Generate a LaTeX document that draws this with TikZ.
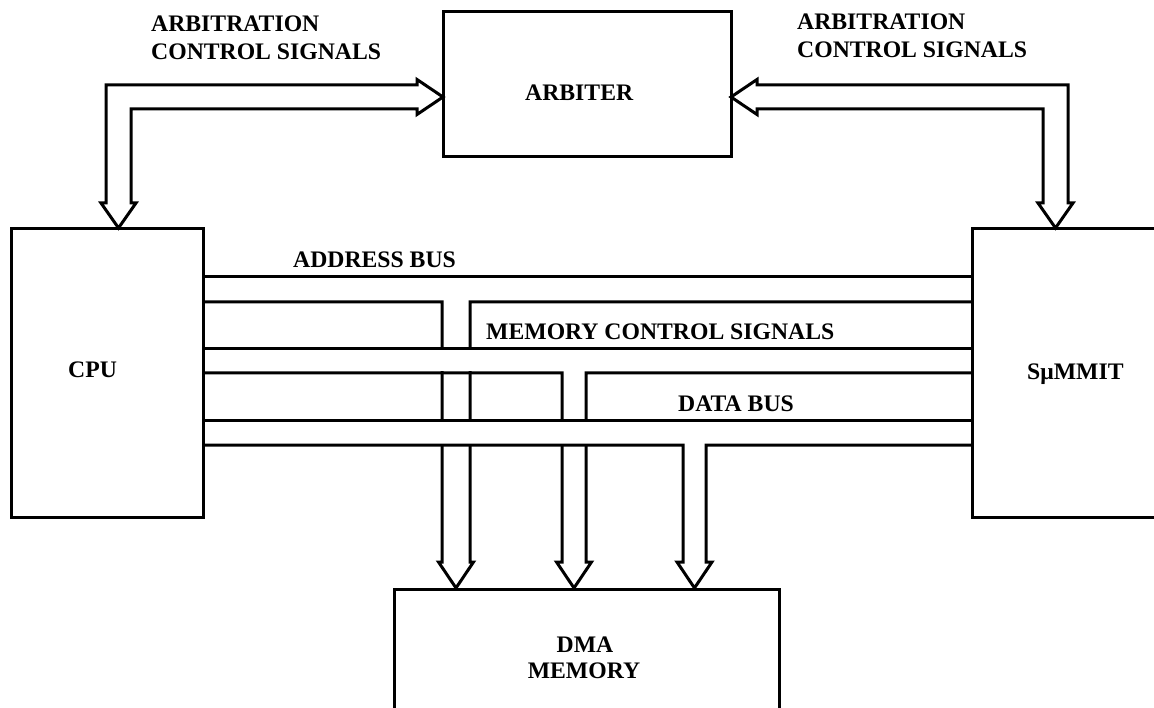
\documentclass[tikz,border=0pt]{standalone}
\usepackage{fontspec}
\setmainfont{Liberation Serif}

\begin{document}
\begin{tikzpicture}[x=1pt,y=-1pt,line join=miter,
    blk/.style={draw,line width=3pt,minimum width=#1,inner sep=0pt,outer sep=0pt},
    bus/.style={line width=3pt},
    lbl/.style={inner sep=0pt,font=\fontsize{23.7}{28}\selectfont\bfseries}]
  \path[use as bounding box] (0,0) rectangle (1154,708);
  \clip (0,0) rectangle (1154,708);

  % blocks
  \node[blk=288pt,minimum height=145pt] (arb) at (587,84.5) {};
  \node[blk=192pt,minimum height=288pt] (cpu) at (107,373) {};
  \node[blk=208pt,minimum height=288pt] (smm) at (1076,373) {};
  \node[blk=385pt,minimum height=141pt] (dma) at (586.5,659.5) {};

  \node[lbl,anchor=base west] (arbT) at (525,101) {ARBITER};
  \node[lbl,anchor=base west] (cpuT) at (68,378) {CPU};
  \node[lbl,anchor=base west] (smmT) at (1027,380) {SμMMIT};
  \node[lbl,anchor=base] (dmaT) at (585,652) {DMA};
  \node[lbl,anchor=base] (memT) at (584,678) {MEMORY};

  % arbitration signals
  \node[lbl,anchor=north west,align=left] (arbL) at (151,15.5) {ARBITRATION\\CONTROL SIGNALS};
  \node[lbl,anchor=north west,align=left] (arbR) at (797,13.5) {ARBITRATION\\CONTROL SIGNALS};

  \draw[bus] (131,203) -- (131,109) -- (417,109) -- (417,114.5) -- (443,97)
    -- (417,79.5) -- (417,85) -- (106,85) -- (106,203) -- (101,203)
    -- (118.5,228) -- (136,203) -- cycle;
  \draw[bus] (1043,203) -- (1043,109) -- (757,109) -- (757,114.5) -- (731,97)
    -- (757,79.5) -- (757,85) -- (1068,85) -- (1068,203) -- (1073,203)
    -- (1055.5,228) -- (1038,203) -- cycle;

  % address bus
  \node[lbl,anchor=base west] (adrT) at (293,268) {ADDRESS BUS};
  \draw[bus] (203,277) -- (972,277);
  \draw[bus] (203,302) -- (442,302) -- (442,562) -- (438.5,562) -- (456,588)
    -- (473.5,562) -- (470,562) -- (470,302) -- (972,302);

  % memory control signals
  \node[lbl,anchor=base west] (mcsT) at (486,340) {MEMORY CONTROL SIGNALS};
  \fill[white] (205,350.5) rectangle (970,371.5);
  \draw[bus] (203,349) -- (972,349);
  \draw[bus] (203,373) -- (562,373) -- (562,562) -- (556.5,562) -- (574,588)
    -- (591.5,562) -- (586,562) -- (586,373) -- (972,373);

  % data bus
  \node[lbl,anchor=base west] (datT) at (678,412) {DATA BUS};
  \fill[white] (205,422.5) rectangle (970,443.5);
  \draw[bus] (203,421) -- (972,421);
  \draw[bus] (203,445) -- (683,445) -- (683,562) -- (677,562) -- (694.5,588)
    -- (712,562) -- (706,562) -- (706,445) -- (972,445);
\end{tikzpicture}
\end{document}
